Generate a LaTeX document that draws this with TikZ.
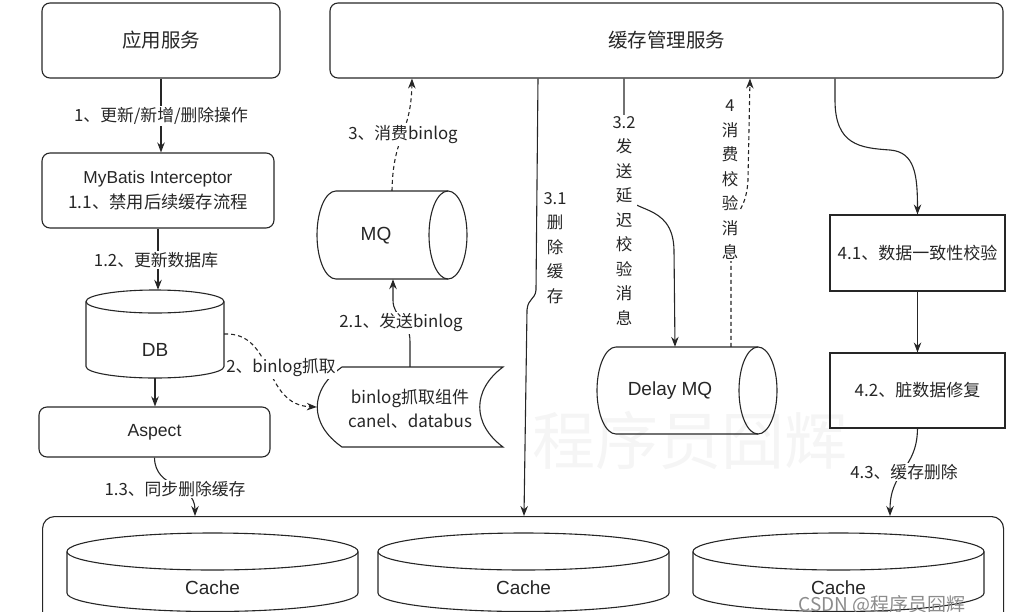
\documentclass[tikz,border=0pt]{standalone}
\usepackage{fontspec}
\setmainfont{Liberation Sans}
\newfontfamily\zhfont{Noto Sans CJK SC}
\usetikzlibrary{arrows.meta}
\definecolor{ink}{RGB}{38,38,38}
\begin{document}
\begin{tikzpicture}[x=1pt,y=-1pt,
  every node/.style={text=ink},
  box/.style={draw=ink, line width=1.1pt, rounded corners=8pt, inner sep=0pt},
  sq/.style={draw=ink, line width=1.1pt, inner sep=0pt},
  ghost/.style={inner sep=0pt},
  big/.style={font=\fontsize{19}{22}\selectfont},
  bigzh/.style={font=\zhfont\fontsize{19.5}{22}\selectfont},
  mid/.style={font=\zhfont\fontsize{17}{24}\selectfont},
  lbl/.style={fill=white, inner sep=1.5pt, font=\zhfont\fontsize{16.8}{19}\selectfont},
  vlbl/.style={align=center, inner sep=1.5pt, font=\zhfont\fontsize{16.5}{24.5}\selectfont},
  shp/.style={draw=ink, line width=1.1pt},
  arr/.style={draw=ink, line width=1.1pt, -{Stealth[length=10pt,width=7.5pt]}},
  dsh/.style={arr, dash pattern=on 4pt off 3pt}]
\useasboundingbox (0,0) rectangle (1021,611);
\begin{scope}
\clip (0,0) rectangle (1021,611);
% watermark
\node[text=black!4, font=\zhfont\fontsize{63}{66}\selectfont] (wm) at (690,441) {程序员囧辉};

% top services
\node[box, bigzh, minimum width=238, minimum height=75] (app) at (161,40.5) {应用服务};
\node[box, bigzh, minimum width=673, minimum height=75] (cms) at (666.5,40.5) {缓存管理服务};

% left column
\node[box, align=center, minimum width=232, minimum height=75, font=\fontsize{17.3}{25}\selectfont] (mybatis) at (158,190.5)
  {MyBatis Interceptor\\{\zhfont 1.1、禁用后续缓存流程}};
\node[ghost, minimum width=138, minimum height=88] (db) at (155,334) {};
\draw[shp] (86,301.5) -- (86,366.5) arc[start angle=180,end angle=0,x radius=69,y radius=11.5] -- (224,301.5);
\draw[shp] (155,301.5) ellipse[x radius=69,y radius=11.5];
\node[big] (dbt) at (155,350) {DB};
\node[box, minimum width=231, minimum height=50, font=\fontsize{17.6}{20}\selectfont] (aspect) at (154.5,432) {Aspect};

% MQ
\node[ghost, minimum width=151, minimum height=88] (mq) at (392,235) {};
\draw[shp] (448,191) -- (336,191) arc[start angle=270,end angle=90,x radius=19,y radius=44] -- (448,279);
\draw[shp] (448,235) ellipse[x radius=19,y radius=44];
\node[big] (mqt) at (376,236) {MQ};

% binlog component
\node[ghost, minimum width=186, minimum height=80] (binlog) at (410,407) {};
\draw[shp] (342,367) -- (503,367) .. controls (472,390) and (472,424) .. (503,447) -- (342,447)
  .. controls (309,424) and (309,390) .. (342,367) -- cycle;
\node[mid, align=center] (binlogt) at (410,409) {binlog抓取组件\\canel、databus};

% Delay MQ
\node[ghost, minimum width=180, minimum height=87] (delay) at (687,390.5) {};
\draw[shp] (758,347) -- (616,347) arc[start angle=270,end angle=90,x radius=19,y radius=43.5] -- (758,434);
\draw[shp] (758,390.5) ellipse[x radius=19,y radius=43.5];
\node[big] (delayt) at (670,391) {Delay MQ};

% right column
\node[sq, mid, minimum width=175, minimum height=76] (box41) at (917.5,253) {4.1、数据一致性校验};
\node[sq, mid, minimum width=175, minimum height=75] (box42) at (917.5,390.5) {4.2、脏数据修复};

% cache container
\node[box, rounded corners=12pt, minimum width=961, minimum height=140, anchor=north west] (cont) at (42,516) {};
\foreach \l/\r/\n in {67/358/1, 378/669/2, 693/984/3}{
  \pgfmathsetmacro\cx{(\l+\r)/2}
  \pgfmathsetmacro\rx{(\r-\l)/2}
  \draw[shp] (\l,551.5) -- (\l,593) arc[start angle=180,end angle=0,x radius=\rx,y radius=18.5] -- (\r,551.5);
  \draw[shp] (\cx,551.5) ellipse[x radius=\rx,y radius=18.5];
  \node[big] (cache\n) at (\cx,588) {Cache};
}

% connectors
\draw[arr] (app.south) -- (app.south |- mybatis.north);
\node[lbl] (l1) at (161,116) {1、更新/新增/删除操作};

\draw[arr] (mybatis.south) -- (mybatis.south |- db.north);
\node[lbl] (l12) at (156,260) {1.2、更新数据库};

\draw[arr] (db.south) -- (db.south |- aspect.north);

\draw[arr] (aspect.south) .. controls (155,490) and (195,482) .. (195,0 |- cont.north);
\node[lbl] (l13) at (175,489) {1.3、同步删除缓存};

\draw[dsh] (db.east) .. controls (275,332) and (262,405) .. (binlog.west);
\node[lbl] (l2) at (281,368) {2、binlog抓取};

\draw[arr] (binlog.north) -- (410,342) .. controls (410,318) and (393,318) .. (393,300) -- (393,0 |- mq.south);
\node[lbl] (l21) at (401,323) {2.1、发送binlog};

\draw[dsh] (392,0 |- mq.north) .. controls (393,135) and (411,135) .. (412,0 |- cms.south);
\node[lbl] (l3) at (403,135) {3、消费binlog};

\draw[arr] (538,0 |- cms.south) -- (536,290) .. controls (535,300) and (528,298) .. (527,310) -- (524,0 |- cont.north);
\node[vlbl] (l31) at (555,248) {3.1\\删\\除\\缓\\存};

\draw[arr] (624,0 |- cms.south) -- (624,190) .. controls (626,215) and (673,200) .. (674,250) -- (675,0 |- delay.north);
\node[vlbl, fill=white] (l32) at (624,221) {3.2\\发\\送\\延\\迟\\校\\验\\消\\息};

\draw[dsh] (731,0 |- delay.north) -- (731,235) .. controls (731,212) and (746,215) .. (748,180) -- (750,0 |- cms.south);
\node[vlbl, fill=white] (l4) at (730,180) {4\\消\\费\\校\\验\\消\\息};

\draw[arr] (835,0 |- cms.south) -- (835,100) .. controls (835,145) and (860,148) .. (890,150) .. controls (915,152) and (917.5,175) .. (box41.north);

\draw[arr] (box41.south) -- (box42.north);

\draw[arr] (box42.south) .. controls (917,470) and (890,470) .. (890,0 |- cont.north);
\node[lbl] (l43) at (904,472) {4.3、缓存删除};

\node[text=black!45, font=\zhfont\fontsize{19}{22}\selectfont] (wm2) at (882,605) {CSDN @程序员囧辉};
\end{scope}
\end{tikzpicture}
\end{document}
